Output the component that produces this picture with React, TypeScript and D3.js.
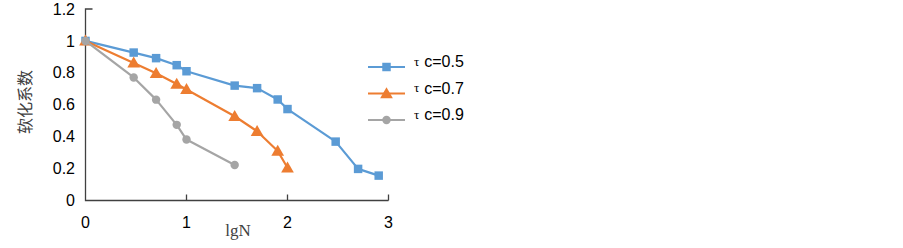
import { useEffect, useRef } from 'react'
import * as d3 from 'd3'

// lgN for N = 1, 3, 5, 8, 10, 30, 50, 80, 100, 300, 500, 800
const lgN = [0, 0.477, 0.699, 0.903, 1, 1.477, 1.699, 1.903, 2, 2.477, 2.699, 2.903]

const seriesNames = ['c=0.5', 'c=0.7', 'c=0.9']
const values05 = [1, 0.927, 0.892, 0.848, 0.81, 0.72, 0.704, 0.633, 0.573, 0.369, 0.198, 0.156]
const values07 = [1, 0.862, 0.797, 0.73, 0.696, 0.528, 0.434, 0.31, 0.205]
const values09 = [1, 0.771, 0.632, 0.474, 0.382, 0.222]

const xTicks = [0, 1, 2, 3]
const yTicks = [0, 0.2, 0.4, 0.6, 0.8, 1, 1.2]

const colors = ['#5B9BD5', '#ED7D31', '#A5A5A5']
const symbols = [d3.symbolSquare, d3.symbolTriangle, d3.symbolCircle]
const symbolSizes = [72, 70, 56]

export default function App() {
  const ref = useRef<SVGSVGElement>(null)

  useEffect(() => {
    const svg = d3.select(ref.current)
    svg.selectAll('*').remove()

    const x = d3.scaleLinear().domain([0, 3]).range([85.5, 388.5])
    const y = d3.scaleLinear().domain([0, 1.2]).range([200.5, 9])

    const axisColor = '#404040'
    const tickFont = '"Liberation Sans", Arial, sans-serif'

    // axes
    svg.append('path')
      .attr('d', `M${x(0) + 7},${y(1.2)}H${x(0)}V${y(0)}H${x(3)}`)
      .attr('fill', 'none')
      .attr('stroke', axisColor)
      .attr('stroke-width', 1.3)

    xTicks.slice(1).forEach(t => {
      svg.append('line')
        .attr('x1', x(t)).attr('x2', x(t))
        .attr('y1', y(0)).attr('y2', y(0) - 6)
        .attr('stroke', axisColor).attr('stroke-width', 1.3)
    })

    xTicks.forEach(t => {
      svg.append('text')
        .attr('x', x(t)).attr('y', 222)
        .attr('dy', '0.35em')
        .attr('text-anchor', 'middle')
        .style('font-family', tickFont)
        .style('font-size', '16px')
        .style('fill', '#000')
        .text(String(t))
    })

    yTicks.forEach(t => {
      svg.append('text')
        .attr('x', 75).attr('y', y(t))
        .attr('dy', '0.35em')
        .attr('text-anchor', 'end')
        .style('font-family', tickFont)
        .style('font-size', '16px')
        .style('fill', '#000')
        .text(d3.format('~g')(t))
    })

    // axis titles
    svg.append('text')
      .attr('transform', `translate(25,102) rotate(-90)`)
      .attr('text-anchor', 'middle')
      .attr('dy', '0.35em')
      .style('font-family', '"Noto Sans CJK SC", serif')
      .style('font-size', '16px')
      .style('fill', '#404040')
      .text('软化系数')

    svg.append('text')
      .attr('x', 238).attr('y', 230)
      .attr('text-anchor', 'middle')
      .attr('dy', '0.35em')
      .style('font-family', '"Liberation Serif", "Times New Roman", serif')
      .style('font-size', '17px')
      .style('fill', '#404040')
      .text('lgN')

    const allSeries = [values05, values07, values09]
    const line = d3.line<number>()
      .x((_, i) => x(lgN[i]))
      .y(d => y(d))

    allSeries.forEach((vals, s) => {
      const g = svg.append('g')
      g.append('path')
        .datum(vals)
        .attr('d', line)
        .attr('fill', 'none')
        .attr('stroke', colors[s])
        .attr('stroke-width', 2.2)
        .attr('stroke-linejoin', 'round')
      g.selectAll('path.m')
        .data(vals)
        .join('path')
        .attr('class', 'm')
        .attr('transform', (d, i) => `translate(${x(lgN[i])},${y(d) + (s === 1 ? 1 : 0)})`)
        .attr('d', d3.symbol().type(symbols[s]).size(symbolSizes[s])())
        .attr('fill', colors[s])
    })

    // legend
    seriesNames.forEach((name, s) => {
      const ly = 67 + s * 26.5
      svg.append('line')
        .attr('x1', 368).attr('x2', 405)
        .attr('y1', ly).attr('y2', ly)
        .attr('stroke', colors[s])
        .attr('stroke-width', 2.2)
      svg.append('path')
        .attr('transform', `translate(386.5,${ly + (s === 1 ? 1 : 0)})`)
        .attr('d', d3.symbol().type(symbols[s]).size(symbolSizes[s])())
        .attr('fill', colors[s])
      const t = svg.append('text')
        .attr('x', 414).attr('y', ly)
        .attr('dy', '0.35em')
        .style('font-family', tickFont)
        .style('font-size', '16px')
        .style('fill', '#000')
      t.append('tspan')
        .style('font-family', '"Liberation Serif", serif')
        .style('font-size', '13px')
        .attr('dy', '-0.1em')
        .text('τ')
      t.append('tspan')
        .attr('dx', 5)
        .attr('dy', '0.1em')
        .text(name)
    })
  }, [])

  return (
    <svg ref={ref} width={903} height={248}
      style={{ position: 'absolute', left: 0, top: 0, background: '#fff' }} />
  )
}
